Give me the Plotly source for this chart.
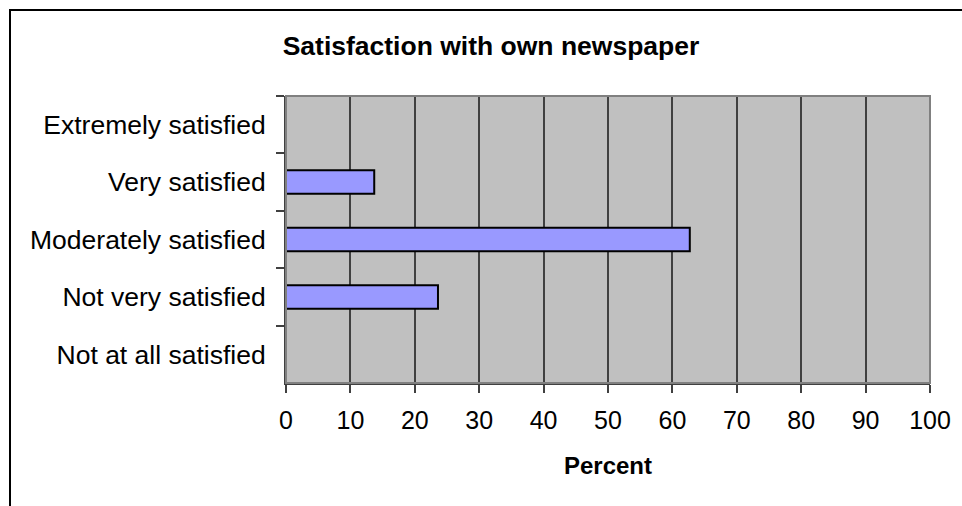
import plotly.graph_objects as go

categories = ["Extremely satisfied", "Very satisfied", "Moderately satisfied",
              "Not very satisfied", "Not at all satisfied"]
percent = [0, 13.7, 62.7, 23.6, 0]
x_ticks = list(range(0, 101, 10))

W, H = 962, 506
ML, MR, MT, MB = 286, 32, 96, 123
PW, PH = W - ML - MR, H - MT - MB

def px_x(px):
    return (px - ML) / PW

def px_y(py):
    return (H - MB - py) / PH

font_family = "Liberation Sans, Arial, sans-serif"

fig = go.Figure(go.Bar(
    x=percent, y=categories, orientation="h",
    marker=dict(color="#9999FF", line=dict(color="#000000", width=2)),
    width=0.41,
))

fig.update_layout(
    width=W, height=H,
    margin=dict(l=ML, r=MR, t=MT, b=MB),
    paper_bgcolor="white", plot_bgcolor="#C0C0C0",
    font=dict(family=font_family, size=25, color="black"),
    showlegend=False,
    title=dict(text="<b>Satisfaction with own newspaper</b>",
               font=dict(size=26.5, family=font_family, color="black"),
               x=491 / W, xref="container", xanchor="center",
               y=1 - 46 / H, yref="container", yanchor="middle"),
    xaxis=dict(range=[0, 100], tickvals=x_ticks, ticktext=[str(v) for v in x_ticks],
               showgrid=True, gridcolor="#404040", gridwidth=1.5,
               showline=True, linecolor="#404040", linewidth=2,
               ticks="outside", ticklen=8, tickcolor="#404040", tickwidth=1.5,
               tickfont=dict(size=25), ticklabelstandoff=6,
               zeroline=False, fixedrange=True,
               title=dict(text="<b>Percent</b>", font=dict(size=24), standoff=24)),
    yaxis=dict(categoryorder="array", categoryarray=categories, autorange="reversed",
               tickson="boundaries", ticks="outside", ticklen=8, tickcolor="#404040",
               tickwidth=1.5, showgrid=False, showline=True, linecolor="#404040",
               linewidth=2, tickfont=dict(size=26.5), ticklabelstandoff=13,
               fixedrange=True),
    shapes=[
        # plot area border (top/right grey)
        dict(type="rect", xref="paper", yref="paper", x0=0, x1=1, y0=0, y1=1,
             line=dict(color="#808080", width=2), layer="above"),
        # outer chart frame
        dict(type="rect", xref="paper", yref="paper",
             x0=px_x(10), x1=px_x(W + 40), y0=px_y(H + 40), y1=px_y(10),
             line=dict(color="black", width=2), layer="above"),
    ],
)

fig.write_html("out.html")
